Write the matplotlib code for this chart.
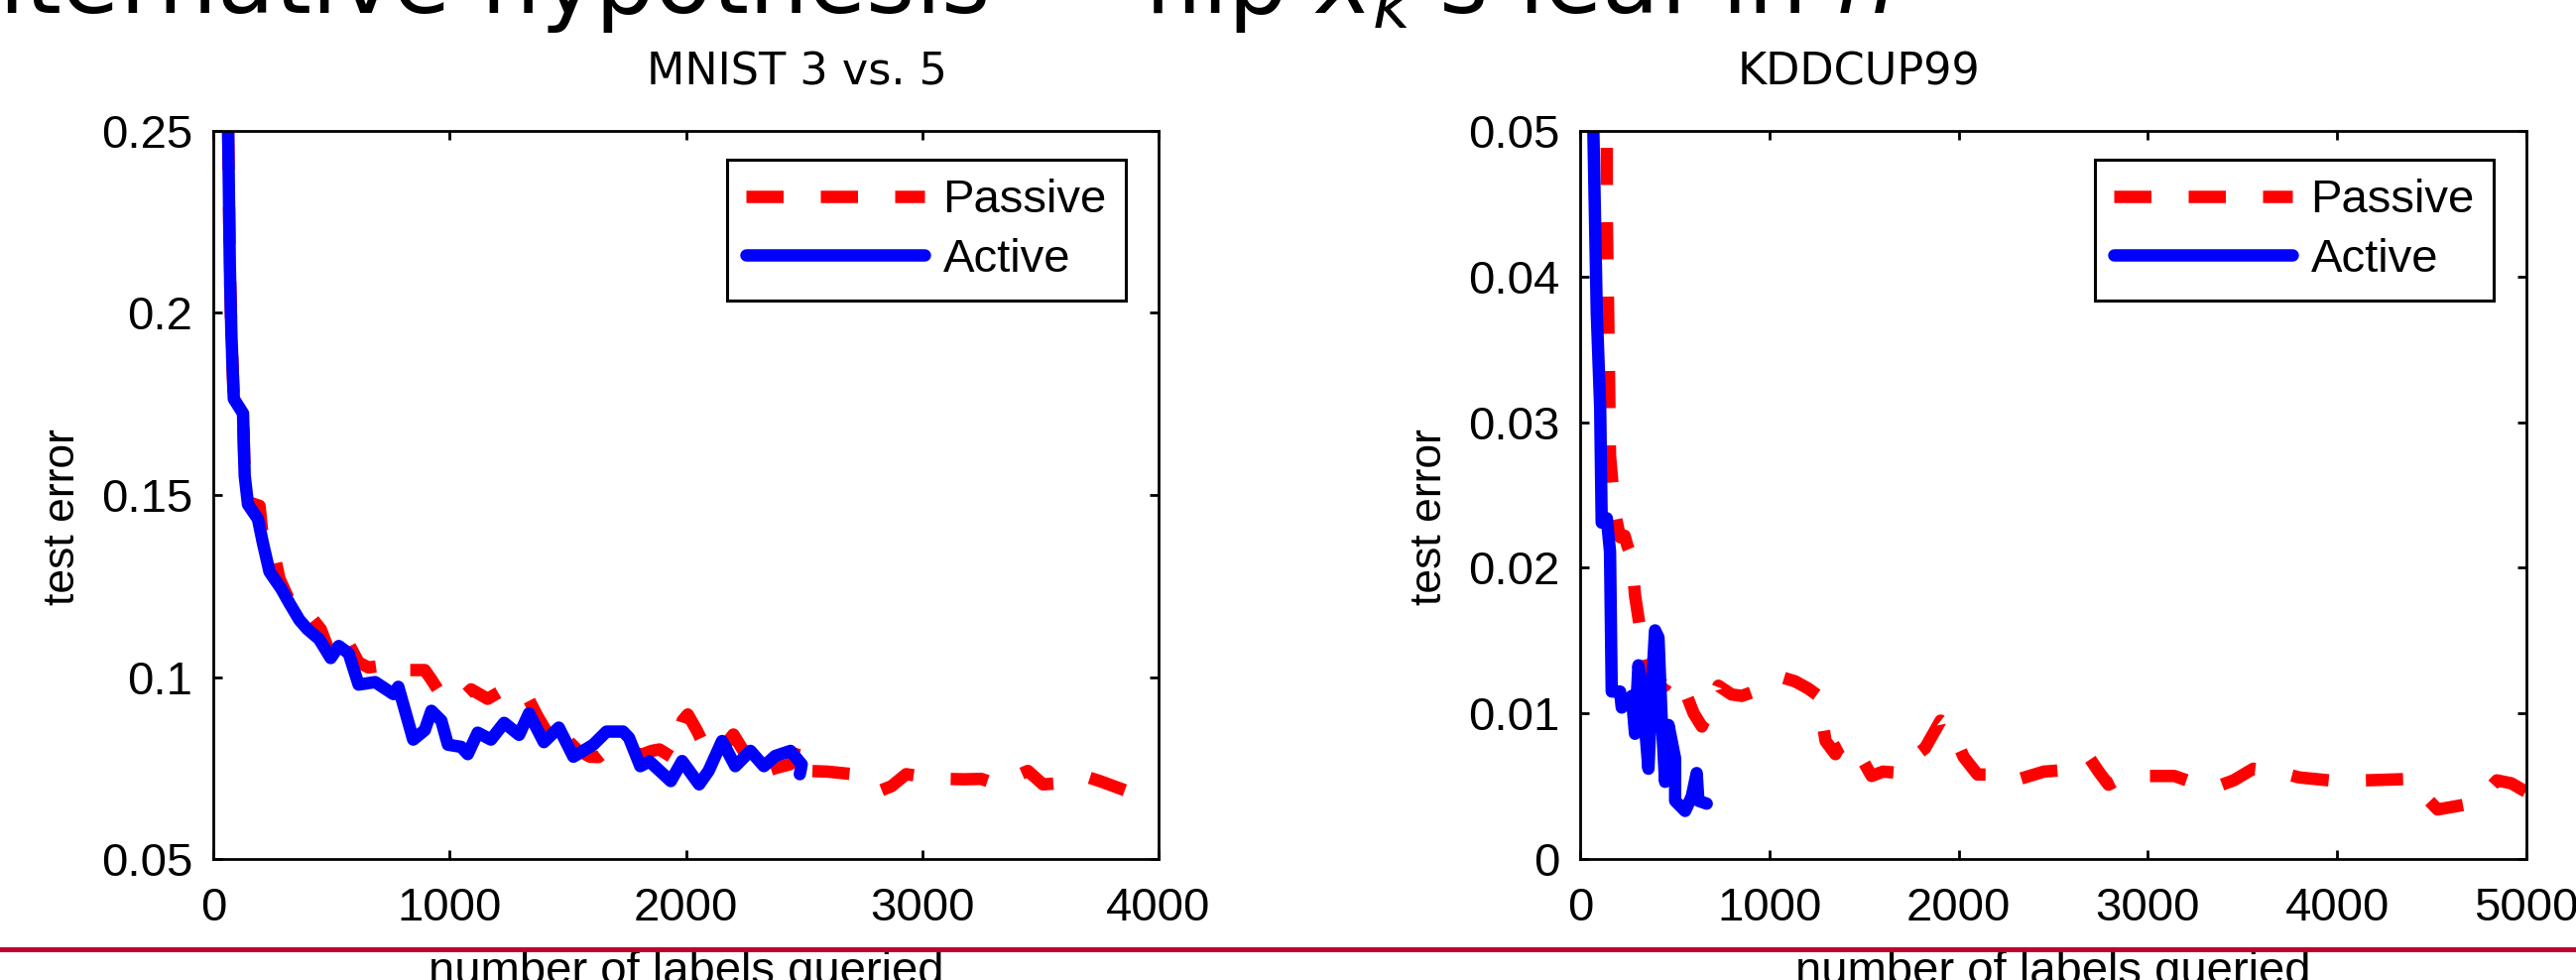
"""
Passive vs. active learning curves (MNIST 3 vs. 5 and KDDCUP99), slide crop.
"""

import matplotlib
matplotlib.use("Agg")
import matplotlib.pyplot as plt
from matplotlib.lines import Line2D

# ---- MNIST 3 vs. 5 ----
mnist_passive_x = [55, 63, 70, 77, 87, 126, 133, 150, 196, 210, 252, 280, 322, 364,
                   406, 455, 497, 531, 573, 615, 657, 727, 780, 825, 895, 923, 965,
                   1007, 1049, 1091, 1161, 1231, 1266, 1329, 1371, 1410, 1441, 1497,
                   1540, 1594, 1630, 1662, 1678, 1740, 1818, 1855, 1888, 1940, 1986,
                   2008, 2048, 2100, 2150, 2201, 2250, 2322, 2380, 2440, 2466, 2514,
                   2600, 2707, 2772, 2820, 2870, 2932, 3029, 3100, 3174, 3250, 3318,
                   3383, 3447, 3511, 3624, 3704, 3752, 3865, 3945, 4000]
mnist_passive_y = [0.27, 0.25, 0.213, 0.1935, 0.176, 0.172, 0.155, 0.148, 0.147, 0.138,
                   0.1355, 0.127, 0.121, 0.117, 0.1171, 0.1131, 0.106, 0.1039, 0.1091,
                   0.104, 0.1026, 0.1032, 0.101, 0.1019, 0.1019, 0.0993, 0.095, 0.0933,
                   0.094, 0.0966, 0.094, 0.0966, 0.0946, 0.0946, 0.0893, 0.085, 0.0801,
                   0.0828, 0.080, 0.0781, 0.078, 0.0797, 0.0795, 0.079, 0.0788, 0.0797,
                   0.0801, 0.078, 0.088, 0.0897, 0.0851, 0.078, 0.080, 0.0842, 0.079,
                   0.0737, 0.075, 0.076, 0.0815, 0.0742, 0.074, 0.0733, 0.071, 0.0687,
                   0.070, 0.0733, 0.0724, 0.072, 0.0719, 0.072, 0.0705, 0.0724, 0.0742,
                   0.0705, 0.071, 0.0724, 0.0714, 0.0687, 0.0678, 0.0655]

mnist_active_x = [55, 63, 70, 77, 87, 126, 133, 147, 189, 210, 238, 287, 322, 364, 399,
                  448, 497, 531, 573, 615, 685, 762, 783, 846, 895, 923, 965, 993, 1049,
                  1077, 1119, 1175, 1231, 1294, 1336, 1399, 1462, 1524, 1608, 1664, 1734,
                  1759, 1807, 1846, 1936, 1984, 2056, 2096, 2153, 2209, 2273, 2330, 2378,
                  2442, 2490, 2482]
mnist_active_y = [0.27, 0.25, 0.2133, 0.1935, 0.1764, 0.1724, 0.1553, 0.1474, 0.1434,
                  0.1368, 0.1289, 0.1243, 0.1203, 0.1157, 0.1131, 0.1104, 0.1052, 0.1085,
                  0.1065, 0.0979, 0.0986, 0.0953, 0.0973, 0.0828, 0.0854, 0.0907, 0.088,
                  0.0814, 0.0808, 0.0788, 0.0847, 0.0828, 0.0874, 0.0841, 0.090, 0.0821,
                  0.0861, 0.0781, 0.0814, 0.085, 0.085, 0.0833, 0.0755, 0.0768, 0.0714,
                  0.0769, 0.0705, 0.0742, 0.0824, 0.0755, 0.0797, 0.0755, 0.0783, 0.0797,
                  0.076, 0.0733]

# ---- KDDCUP99 ----
kdd_passive_x = [141, 141, 141, 150, 158, 185, 211, 235, 250, 273, 290, 317, 361, 400,
                 449, 480, 519, 555, 600, 643, 690, 731, 800, 854, 920, 977, 1060, 1136,
                 1206, 1259, 1297, 1349, 1364, 1436, 1540, 1600, 1697, 1760, 1822, 1905,
                 1963, 2027, 2100, 2174, 2236, 2323, 2450, 2549, 2620, 2688, 2740, 2792,
                 2850, 2983, 3140, 3250, 3349, 3453, 3557, 3680, 3800, 3957, 4148, 4392,
                 4450, 4531, 4705, 4780, 4844, 4920, 5000]
kdd_passive_y = [0.06, 0.05, 0.0441, 0.0359, 0.0277, 0.0237, 0.0221, 0.0222, 0.0215,
                 0.0208, 0.0181, 0.0158, 0.0132, 0.0122, 0.0119, 0.0125, 0.0124, 0.0115,
                 0.010, 0.0091, 0.0105, 0.0119, 0.0113, 0.0112, 0.0115, 0.0119, 0.0125,
                 0.0122, 0.0117, 0.0112, 0.0081, 0.0072, 0.0076, 0.0081, 0.0057, 0.006,
                 0.0059, 0.007, 0.0076, 0.0095, 0.0089, 0.007, 0.0058, 0.0058, 0.0054,
                 0.0055, 0.006, 0.0061, 0.0066, 0.007, 0.006, 0.0051, 0.0055, 0.0057,
                 0.0057, 0.0052, 0.0049, 0.0054, 0.0062, 0.006, 0.0056, 0.0054, 0.0054,
                 0.0055, 0.0045, 0.0034, 0.0038, 0.0045, 0.0054, 0.0052, 0.0046]

kdd_active_x = [62, 70, 88, 106, 114, 141, 158, 167, 211, 220, 273, 290, 308, 326, 361,
                379, 396, 414, 431, 449, 467, 502, 502, 555, 590, 616, 625, 669]
kdd_active_y = [0.06, 0.05, 0.0375, 0.031, 0.0231, 0.0234, 0.0211, 0.0115, 0.0115,
                0.0104, 0.0112, 0.0086, 0.0133, 0.0118, 0.0062, 0.0118, 0.0157, 0.0152,
                0.0096, 0.0053, 0.0092, 0.0069, 0.004, 0.0033, 0.0043, 0.0059, 0.004,
                0.0038]

mnist_xticks = [0, 1000, 2000, 3000, 4000]
mnist_yticks = [0.05, 0.1, 0.15, 0.2, 0.25]
mnist_ytick_labels = ["0.05", "0.1", "0.15", "0.2", "0.25"]
kdd_xticks = [0, 1000, 2000, 3000, 4000, 5000]
kdd_yticks = [0, 0.01, 0.02, 0.03, 0.04, 0.05]
kdd_ytick_labels = ["0", "0.01", "0.02", "0.03", "0.04", "0.05"]

MATLAB_FONT = "Liberation Sans"
SLIDE_FONT = "DejaVu Sans"
W, H = 2597, 988


def panel(fig, rect, px, py, ax_, ay, xlim, ylim, xticks, yticks, yticklabels):
    ax = fig.add_axes(rect)
    ax.plot(px, py, color="red", lw=9, ls=(0, (3.0, 3.0)), label="Passive",
            solid_joinstyle="round", dash_joinstyle="round")
    ax.plot(ax_, ay, color="blue", lw=9, label="Active",
            solid_joinstyle="round", solid_capstyle="round")
    ax.set_xlim(*xlim)
    ax.set_ylim(*ylim)
    ax.set_xticks(xticks)
    ax.set_xticklabels([str(t) for t in xticks])
    ax.set_yticks(yticks)
    ax.set_yticklabels(yticklabels)
    ax.tick_params(direction="in", length=6.5, width=2, top=True, right=True,
                   labelsize=34, colors="black")
    ax.tick_params(axis="x", pad=20)
    ax.tick_params(axis="y", pad=15)
    for lab in ax.get_xticklabels() + ax.get_yticklabels():
        lab.set_fontfamily(MATLAB_FONT)
    for s in ax.spines.values():
        s.set_linewidth(2)
    ax.set_xlabel("number of labels queried", fontsize=34, family=MATLAB_FONT)
    ax.xaxis.set_label_coords(0.5, -0.126)
    ax.set_ylabel("test error", fontsize=32, family=MATLAB_FONT)
    ax.yaxis.set_label_coords(-0.1375, 0.47)
    leg = ax.legend(loc="upper right", bbox_to_anchor=(0.965, 0.96),
                    prop={"family": MATLAB_FONT, "size": 34}, handlelength=3.8,
                    handletextpad=0.4, borderpad=0.4, labelspacing=0.33,
                    fancybox=False, framealpha=1, edgecolor="black",
                    borderaxespad=0)
    leg.get_frame().set_linewidth(2.2)
    return ax


def main():
    plt.rcParams["mathtext.fontset"] = "dejavusans"
    fig = plt.figure(figsize=(W / 100, H / 100), dpi=100)

    panel(fig, [215 / W, 1 - 866 / H, 953 / W, 734 / H],
          mnist_passive_x, mnist_passive_y, mnist_active_x, mnist_active_y,
          (0, 4000), (0.05, 0.25), mnist_xticks, mnist_yticks, mnist_ytick_labels)
    panel(fig, [1593 / W, 1 - 866 / H, 954 / W, 734 / H],
          kdd_passive_x, kdd_passive_y, kdd_active_x, kdd_active_y,
          (0, 5000), (0, 0.05), kdd_xticks, kdd_yticks, kdd_ytick_labels)

    fig.text(803 / W, 1 - 73 / H, "MNIST 3 vs. 5", ha="center", va="center",
             fontsize=32, family=SLIDE_FONT)
    fig.text(1874 / W, 1 - 73 / H, "KDDCUP99", ha="center", va="center",
             fontsize=32, family=SLIDE_FONT)
    # slide title, cut off by the crop
    fig.text(-66 / W, 1 - 13 / H, "Alternative hypothesis \u2014 flip $x_k$'s leaf in $h$",
             ha="left", va="baseline", fontsize=68, family=SLIDE_FONT)
    # slide rule
    fig.add_artist(Line2D([0, 1], [1 - 957 / H] * 2, transform=fig.transFigure,
                          color="#C0002F", lw=3.6, zorder=10))

    fig.savefig("out.png", dpi=100)


if __name__ == "__main__":
    main()
